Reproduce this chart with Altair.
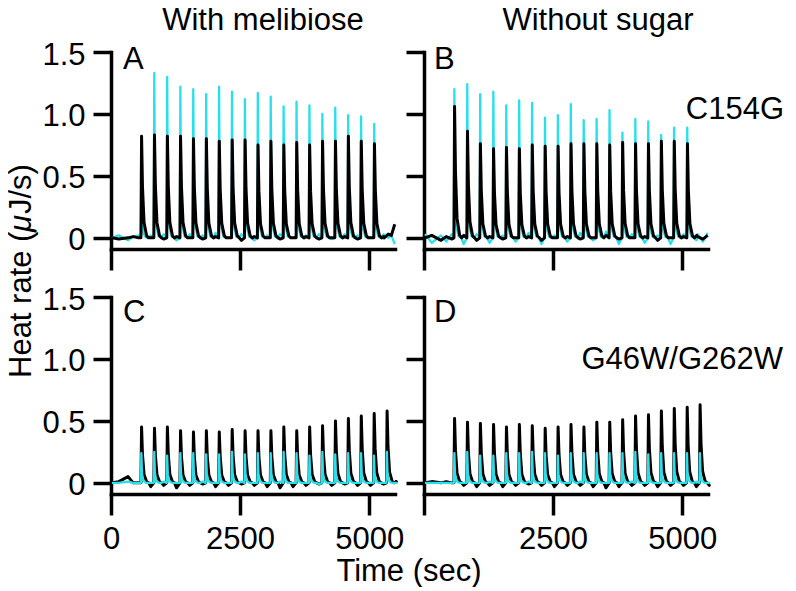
import altair as alt
import pandas as pd

FONT = "Liberation Sans"
CYAN = "#2adfec"

# ---------------- data ----------------
# injection times (s), read from spike positions
inj_AB = [580, 830, 1080, 1335, 1585, 1835, 2085, 2335, 2585, 2835,
          3085, 3335, 3585, 3835, 4085, 4335, 4585, 4835, 5090]
inj_CD = [580, 830, 1080, 1335, 1585, 1835, 2085, 2335, 2585, 2835,
          3085, 3335, 3585, 3835, 4085, 4335, 4585, 4835, 5085, 5335]

# peak heights (uJ/s)
pk_A_black = [0.82, 0.83, 0.82, 0.82, 0.80, 0.80, 0.78, 0.79, 0.79, 0.75,
              0.78, 0.75, 0.77, 0.75, 0.78, 0.78, 0.82, 0.78, 0.76]
pk_A_cyan = [0.50, 1.33, 1.30, 1.22, 1.20, 1.16, 1.22, 1.18, 1.12, 1.17,
             1.14, 1.06, 1.10, 1.07, 1.00, 1.05, 0.99, 0.98, 0.92]
pk_B_black = [1.06, 0.86, 0.76, 0.72, 0.73, 0.72, 0.75, 0.74, 0.74, 0.76,
              0.76, 0.76, 0.75, 0.77, 0.76, 0.76, 0.78, 0.78, 0.76]
pk_B_cyan = [1.20, 1.24, 1.16, 1.18, 1.07, 1.11, 1.09, 0.97, 0.99, 1.08,
             0.95, 0.96, 1.03, 0.85, 0.96, 0.94, 0.83, 0.89, 0.89]
pk_C_black = [0.45, 0.44, 0.45, 0.42, 0.41, 0.42, 0.41, 0.43, 0.42, 0.42,
              0.42, 0.45, 0.42, 0.45, 0.46, 0.50, 0.52, 0.54, 0.56, 0.58]
pk_C_cyan = [0.24, 0.25, 0.22, 0.24, 0.24, 0.23, 0.23, 0.25, 0.23, 0.24,
             0.24, 0.25, 0.24, 0.22, 0.25, 0.23, 0.24, 0.24, 0.22, 0.25]
pk_D_black = [0.52, 0.49, 0.48, 0.47, 0.45, 0.47, 0.46, 0.44, 0.45, 0.47,
              0.45, 0.49, 0.49, 0.51, 0.54, 0.55, 0.58, 0.60, 0.61, 0.63]
pk_D_cyan = [0.24, 0.25, 0.22, 0.22, 0.24, 0.24, 0.25, 0.24, 0.22, 0.24,
             0.24, 0.24, 0.24, 0.24, 0.25, 0.23, 0.24, 0.24, 0.24, 0.24]

# baseline before the first injection
pre_t = [20, 150, 330, 430, 540]
pre_A_black = [0.0, -0.01, 0.0, 0.01, 0.0]
pre_A_cyan = [0.0, 0.02, -0.02, 0.01, 0.02]
pre_B_black = [0.0, 0.02, -0.02, 0.01, -0.01]
pre_B_cyan = [0.03, -0.04, 0.02, -0.03, 0.03]
pre_C_black = [0.0, 0.01, 0.05, 0.0, 0.0]
pre_C_cyan = [0.0, 0.0, 0.01, 0.0, 0.0]
pre_D_black = [0.0, 0.01, 0.0, 0.01, 0.0]
pre_D_cyan = [0.0, 0.0, 0.0, 0.0, 0.0]

# baseline between injections (one value per gap)
gap_A_black = [0.0, -0.01, 0.01, 0.0, -0.01, 0.01, 0.0, -0.02, 0.01, 0.0,
               -0.01, 0.0, 0.01, -0.01, 0.0, 0.01, -0.01, 0.0, 0.01]
gap_A_cyan = [0.02, 0.03, -0.02, 0.03, 0.02, 0.04, 0.0, 0.03, -0.02, 0.02,
              0.03, 0.0, 0.02, 0.03, -0.01, 0.03, 0.02, 0.0, 0.03]
gap_B_black = [0.02, -0.02, 0.01, -0.01, 0.0, 0.01, -0.02, 0.0, 0.01, -0.01,
               0.0, 0.02, -0.01, 0.0, 0.01, -0.02, 0.0, 0.01, 0.02]
gap_B_cyan = [-0.05, 0.03, -0.04, 0.02, -0.03, 0.04, -0.05, 0.02, -0.03, 0.04,
              -0.02, 0.05, -0.05, 0.03, -0.04, 0.02, -0.05, 0.03, -0.02]
gap_C_black = [-0.03, -0.02, -0.04, -0.02, -0.01, -0.03, -0.02, -0.01, -0.02, -0.03,
               -0.04, -0.03, -0.02, -0.01, -0.02, -0.01, -0.02, -0.02, -0.01, 0.01]
gap_C_cyan = [0.0, 0.01, 0.0, 0.0, 0.01, 0.0, 0.0, 0.01, 0.0, 0.0,
              0.01, 0.0, 0.0, -0.01, 0.0, 0.0, 0.0, 0.0, 0.0, 0.0]
gap_D_black = [-0.02, -0.03, -0.02, -0.03, -0.02, -0.01, -0.02, -0.03, -0.02, -0.02,
               -0.03, -0.04, -0.03, -0.02, -0.02, -0.03, -0.02, -0.02, -0.03, -0.02]
gap_D_cyan = [0.0, 0.0, 0.01, 0.0, 0.0, 0.01, 0.0, 0.0, 0.0, 0.01,
              0.0, 0.0, 0.0, 0.01, 0.0, 0.0, 0.0, 0.0, 0.01, 0.0]

# baseline after the last injection
end_A_t, end_A_black, end_A_cyan = [5290, 5370, 5430, 5495], [0.0, 0.03, 0.02, 0.11], [0.02, 0.0, 0.02, -0.05]
end_B_t, end_B_black, end_B_cyan = [5300, 5400, 5495], [0.01, -0.01, 0.02], [0.03, -0.03, 0.04]
end_CD_t = [5500]
end_C_black, end_C_cyan = [0.01], [0.0]
end_D_black, end_D_cyan = [0.0], [0.0]

# spike shape (seconds after injection, fraction of height)
shape_black_dt = [0, 12, 30, 60, 110, 150]
shape_black_f = [0.0, 1.0, 0.5, 0.15, 0.02, 0.0]
shape_cyan_dt = [0, 8, 20, 45, 90, 140]
shape_cyan_f = [0.0, 1.0, 0.32, 0.08, 0.01, 0.0]
GAP_DT = 190


def build(panel, series, inj, peaks, pre_v, gaps, end_t, end_v, sdt, sf):
    rows = []
    for t, v in zip(pre_t, pre_v):
        rows.append((t, v))
    for t0, h, g in zip(inj, peaks, gaps):
        for dt, f in zip(sdt, sf):
            rows.append((t0 + dt, h * f))
        rows.append((t0 + GAP_DT, g))
    for t, v in zip(end_t, end_v):
        rows.append((t, v))
    return pd.DataFrame({"panel": panel, "series": series,
                         "t": [r[0] for r in rows], "v": [r[1] for r in rows],
                         "i": range(len(rows))})


df = pd.concat([
    build("A", "black", inj_AB, pk_A_black, pre_A_black, gap_A_black, end_A_t, end_A_black, shape_black_dt, shape_black_f),
    build("A", "cyan", inj_AB, pk_A_cyan, pre_A_cyan, gap_A_cyan, end_A_t, end_A_cyan, shape_cyan_dt, shape_cyan_f),
    build("B", "black", inj_AB, pk_B_black, pre_B_black, gap_B_black, end_B_t, end_B_black, shape_black_dt, shape_black_f),
    build("B", "cyan", inj_AB, pk_B_cyan, pre_B_cyan, gap_B_cyan, end_B_t, end_B_cyan, shape_cyan_dt, shape_cyan_f),
    build("C", "black", inj_CD, pk_C_black, pre_C_black, gap_C_black, end_CD_t, end_C_black, shape_black_dt, shape_black_f),
    build("C", "cyan", inj_CD, pk_C_cyan, pre_C_cyan, gap_C_cyan, end_CD_t, end_C_cyan, shape_cyan_dt, shape_cyan_f),
    build("D", "black", inj_CD, pk_D_black, pre_D_black, gap_D_black, end_CD_t, end_D_black, shape_black_dt, shape_black_f),
    build("D", "cyan", inj_CD, pk_D_cyan, pre_D_cyan, gap_D_cyan, end_CD_t, end_D_cyan, shape_cyan_dt, shape_cyan_f),
], ignore_index=True)

W, H = 284, 197


def label(text, x, y, align="left", angle=0, style="normal"):
    kw = dict(font=FONT, fontSize=31, color="black", align=align, baseline="alphabetic",
              fontStyle=style)
    if angle:
        kw["angle"] = angle
    return alt.Chart(pd.DataFrame({"s": [text]})).mark_text(**kw).encode(
        x=alt.value(x), y=alt.value(y), text="s:N")


def panel(name, xlabels, ylabels, texts, cyan_on_top, xlabel_expr=None):
    xaxis = dict(values=[0, 2500, 5000], title=None, tickSize=21, labels=xlabels,
                 labelPadding=9, format="d", labelFlush=False)
    if xlabel_expr:
        xaxis["labelExpr"] = xlabel_expr
    yaxis = dict(values=[0, 0.5, 1.0, 1.5], title=None, tickSize=18, labels=ylabels,
                 labelPadding=8, labelOffset=3, labelFlush=False,
                 labelExpr="datum.value == 0 ? '0' : format(datum.value, '.1f')")
    x = alt.X("t:Q", scale=alt.Scale(domain=[0, 5500], nice=False, zero=False), axis=alt.Axis(**xaxis))
    y = alt.Y("v:Q", scale=alt.Scale(domain=[-0.09, 1.5], nice=False, zero=False), axis=alt.Axis(**yaxis))
    base = alt.Chart(df[df.panel == name])
    cyan = base.transform_filter("datum.series == 'cyan'").mark_line(
        color=CYAN, strokeWidth=2.3, strokeJoin="round").encode(x=x, y=y, order="i:Q")
    black = base.transform_filter("datum.series == 'black'").mark_line(
        color="black", strokeWidth=3, strokeJoin="round").encode(x=x, y=y, order="i:Q")
    layers = [black, cyan] if cyan_on_top else [cyan, black]
    return alt.layer(*layers, *texts).properties(width=W, height=H)


# rotated y title, in three pieces so that the mu is italic (reads bottom to top)
YT_X, YT_BOTTOM = -80, 326
pA = panel("A", False, True, [
    label("With melibiose", 152, -22, align="center"),
    label("A", 12, 17),
    label("Heat rate (", YT_X, YT_BOTTOM, angle=270),
    label("\u03bc", YT_X, YT_BOTTOM - 146, angle=270, style="italic"),
    label("J/s)", YT_X, YT_BOTTOM - 164, angle=270),
], cyan_on_top=False)
pB = panel("B", False, False, [
    label("Without sugar", 174, -22, align="center"),
    label("B", 10, 17),
    label("C154G", 360, 67, align="right"),
], cyan_on_top=False)
pC = panel("C", True, True, [
    label("C", 12, 25),
    label("Time (sec)", 298, 284, align="center"),
], cyan_on_top=True)
pD = panel("D", True, False, [
    label("D", 10, 25),
    label("G46W/G262W", 359, 72, align="right"),
], cyan_on_top=True, xlabel_expr="datum.value == 0 ? '' : datum.label")

chart = alt.concat(pA, pB, pC, pD, columns=2, spacing={"row": 48, "column": 29},
                   bounds="flush").properties(
    padding={"left": -2, "top": -3, "right": 2, "bottom": 0}
).configure_view(stroke=None).configure_axis(
    domainColor="black", domainWidth=3.5, domainCap="square",
    tickColor="black", tickWidth=3.5, grid=False,
    labelFont=FONT, labelFontSize=31, labelColor="black",
)

chart.save("out.html", embed_options={"renderer": "svg", "actions": False})
